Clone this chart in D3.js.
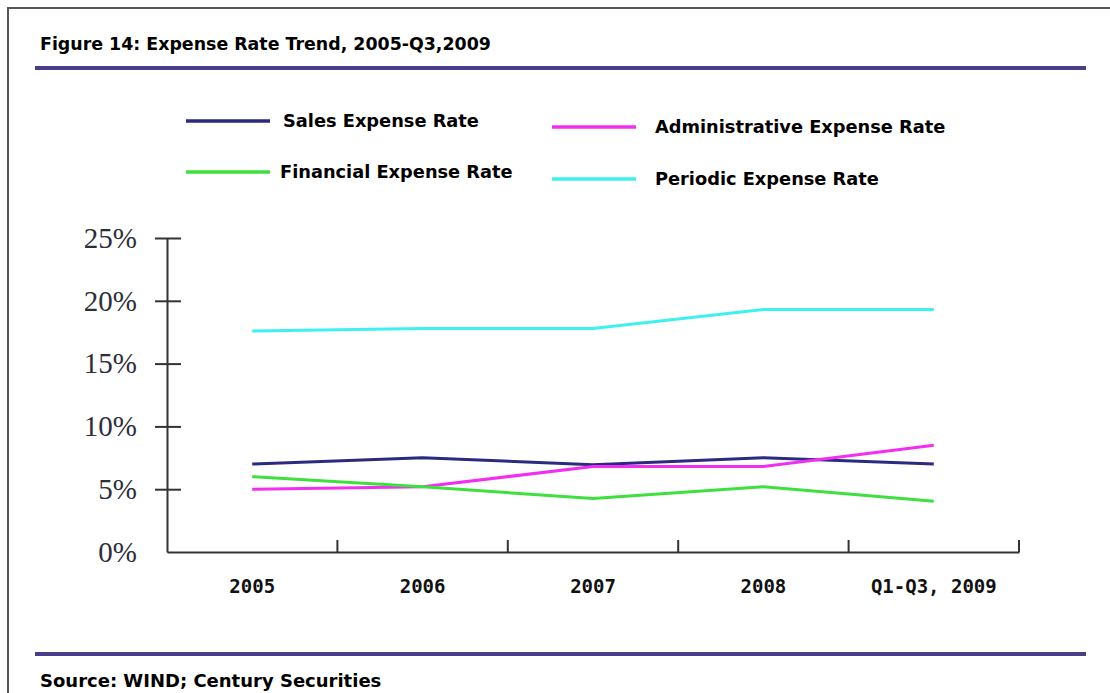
<!DOCTYPE html>
<meta charset="utf-8">
<script src="https://d3js.org/d3.v7.min.js"></script>
<style>
  body { margin: 0; background: #fff; }
</style>
<div id="my_dataviz"></div>
<script>
// data
var years = ["2005", "2006", "2007", "2008", "Q1-Q3, 2009"];
var salesRate = [7.0, 7.5, 6.95, 7.5, 7.0];
var adminRate = [5.0, 5.2, 6.8, 6.8, 8.5];
var financialRate = [6.0, 5.2, 4.25, 5.2, 4.05];
var periodicRate = [17.6, 17.8, 17.8, 19.3, 19.3];
var yTicks = [0, 5, 10, 15, 20, 25];

var seriesNames = ["Sales Expense Rate", "Administrative Expense Rate", "Financial Expense Rate", "Periodic Expense Rate"];
var seriesColors = ["#2a2a80", "#f22ef2", "#3ee03e", "#3ff0f0"];
var seriesValues = [salesRate, adminRate, financialRate, periodicRate];

var W = 1110, H = 693;
var svg = d3.select("#my_dataviz")
  .append("svg")
    .attr("width", W)
    .attr("height", H);

// frame
svg.append("path")
  .attr("d", "M8," + H + "V8H" + W)
  .attr("fill", "none")
  .attr("stroke", "#555")
  .attr("stroke-width", 2);

// title + rules
svg.append("text")
  .attr("x", 40).attr("y", 50)
  .style("font-family", "DejaVu Sans").style("font-weight", "bold").style("font-size", "17.4px")
  .text("Figure 14: Expense Rate Trend, 2005-Q3,2009");
svg.append("line").attr("x1", 35).attr("x2", 1086).attr("y1", 68).attr("y2", 68)
  .attr("stroke", "#4a3d8c").attr("stroke-width", 4);
svg.append("line").attr("x1", 35).attr("x2", 1086).attr("y1", 654).attr("y2", 654)
  .attr("stroke", "#4a3d8c").attr("stroke-width", 4);
svg.append("text")
  .attr("x", 40).attr("y", 687)
  .style("font-family", "DejaVu Sans").style("font-weight", "bold").style("font-size", "18px")
  .text("Source: WIND; Century Securities");

// scales
var plotLeft = 167, plotRight = 1019, plotTop = 238, plotBottom = 552;
var x = d3.scaleBand().domain(years).range([plotLeft, plotRight]);
var y = d3.scaleLinear().domain([0, 25]).range([plotBottom, plotTop]);

// y axis
var yAxis = svg.append("g").attr("transform", "translate(" + plotLeft + ",0)")
  .call(d3.axisLeft(y).tickValues(yTicks).tickSize(0).tickFormat(function(d){ return d + "%"; }).tickPadding(30));
yAxis.select(".domain").attr("stroke", "#333").attr("stroke-width", 2);
yAxis.selectAll(".tick").filter(function(d){ return d > 0; }).append("line")
  .attr("x1", -12).attr("x2", 14).attr("stroke", "#333").attr("stroke-width", 2);
yAxis.selectAll("text")
  .style("font-family", "Liberation Serif").style("font-size", "29px").attr("fill", "#2e2e3a");

// x axis
var xAxis = svg.append("g").attr("transform", "translate(0," + plotBottom + ")")
  .call(d3.axisBottom(x).tickSize(0).tickPadding(28));
xAxis.select(".domain").attr("stroke", "#333").attr("stroke-width", 2);
xAxis.selectAll(".tick").append("line")
  .attr("x1", x.bandwidth() / 2).attr("x2", x.bandwidth() / 2)
  .attr("y1", 0).attr("y2", -12)
  .attr("stroke", "#333").attr("stroke-width", 2);
xAxis.selectAll("text")
  .style("font-family", "DejaVu Sans Mono").style("font-weight", "bold").style("font-size", "19px")
  .attr("fill", "#111");

// lines
var line = d3.line()
  .x(function(d, i){ return x(years[i]) + x.bandwidth() / 2; })
  .y(function(d){ return y(d); });

[3, 0, 1, 2].forEach(function(k){
  svg.append("path")
    .datum(seriesValues[k])
    .attr("fill", "none")
    .attr("stroke", seriesColors[k])
    .attr("stroke-width", 3)
    .attr("d", line);
});

// legend
var legendPos = [[186, 121], [552, 127], [186, 172], [552, 179]];
var legendTextX = [283, 655, 280, 655];
seriesNames.forEach(function(name, i){
  var p = legendPos[i];
  svg.append("line").attr("x1", p[0]).attr("x2", p[0] + 84).attr("y1", p[1]).attr("y2", p[1])
    .attr("stroke", seriesColors[i]).attr("stroke-width", 3.5);
  svg.append("text").attr("x", legendTextX[i]).attr("y", p[1] + 6)
    .style("font-family", "DejaVu Sans").style("font-weight", "bold").style("font-size", "17.8px")
    .text(name);
});
</script>
